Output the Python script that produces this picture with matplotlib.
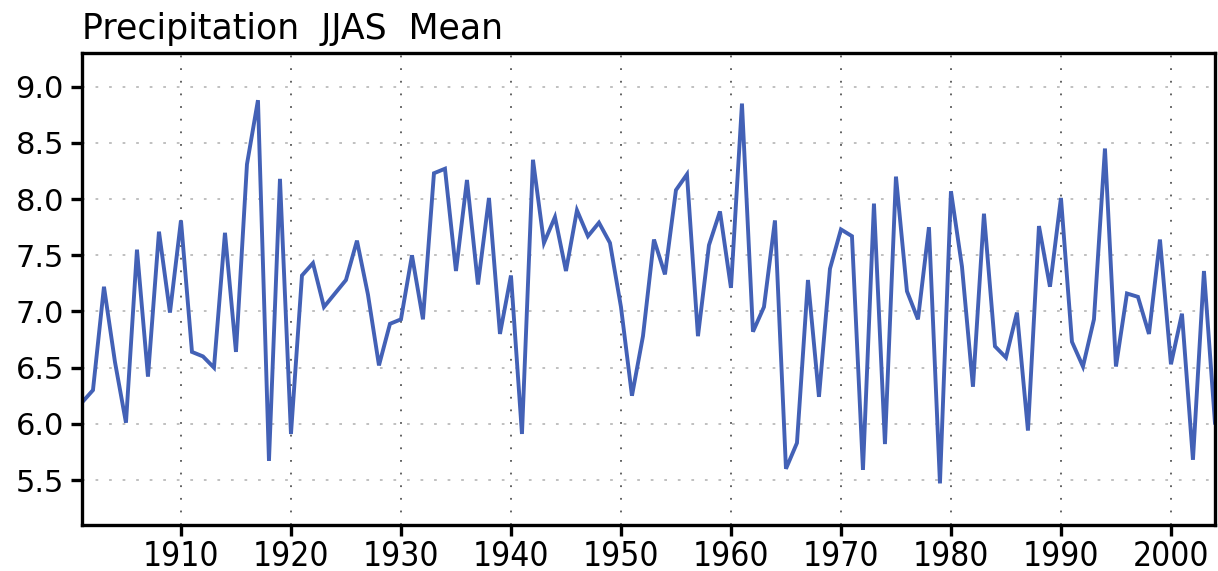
import matplotlib
matplotlib.use("Agg")
import matplotlib.pyplot as plt
import numpy as np

# JJAS mean precipitation, 1901-2004
years = np.arange(1901, 2005)
precip = [
    6.19, 6.30, 7.22, 6.55, 6.01, 7.55, 6.42, 7.71, 6.99, 7.81,   # 1901-1910
    6.64, 6.60, 6.50, 7.70, 6.64, 8.31, 8.88, 5.67, 8.18, 5.91,   # 1911-1920
    7.32, 7.43, 7.04, 7.16, 7.28, 7.63, 7.15, 6.52, 6.89, 6.93,   # 1921-1930
    7.50, 6.93, 8.23, 8.27, 7.36, 8.17, 7.24, 8.01, 6.80, 7.32,   # 1931-1940
    5.91, 8.35, 7.61, 7.84, 7.36, 7.90, 7.67, 7.79, 7.61, 7.04,   # 1941-1950
    6.25, 6.78, 7.64, 7.33, 8.08, 8.22, 6.78, 7.59, 7.89, 7.21,   # 1951-1960
    8.85, 6.82, 7.04, 7.81, 5.60, 5.83, 7.28, 6.24, 7.38, 7.73,   # 1961-1970
    7.67, 5.59, 7.96, 5.82, 8.20, 7.18, 6.93, 7.75, 5.47, 8.07,   # 1971-1980
    7.40, 6.33, 7.87, 6.69, 6.59, 6.99, 5.94, 7.76, 7.22, 8.01,   # 1981-1990
    6.73, 6.51, 6.93, 8.45, 6.51, 7.16, 7.13, 6.80, 7.64, 6.53,   # 1991-2000
    6.98, 5.68, 7.36, 6.01,                                       # 2001-2004
]
xticks = list(range(1910, 2001, 10))
yticks = [5.5, 6.0, 6.5, 7.0, 7.5, 8.0, 8.5, 9.0]

fig = plt.figure(figsize=(12.18, 5.71), dpi=100)
ax = fig.add_axes([0.0673, 0.0806, 0.9302, 0.8266])

ax.plot(years, precip, color='#4361b6', lw=2.8, solid_joinstyle='miter')

ax.set_xlim(1901, 2004)
ax.set_ylim(5.1, 9.3)
ax.set_xticks(xticks)
ax.set_yticks(yticks)
ax.set_yticklabels([f'{v:.1f}' for v in yticks])

# dotted grid: darker vertical lines at decades, lighter horizontal ones
for x in xticks:
    ax.axvline(x, color='#555555', lw=1.3, ls=(0, (1, 6)), zorder=0)
for y in yticks:
    ax.axhline(y, color='#bbbbbb', lw=1.3, ls=(0, (1.5, 6)), zorder=0)

for s in ax.spines.values():
    s.set_linewidth(2.4)
ax.tick_params(direction='out', length=8, width=2.4, pad=5)
ax.tick_params(axis='y', labelsize=22)
ax.tick_params(axis='x', labelsize=24, pad=3)
for lab in ax.get_xticklabels():
    lab.set_fontstretch('condensed')

fig.text(82 / 1218, 1 - 39 / 571, 'Precipitation  JJAS  Mean', fontsize=25,
         ha='left', va='baseline')

fig.savefig('out.png', dpi=100)
